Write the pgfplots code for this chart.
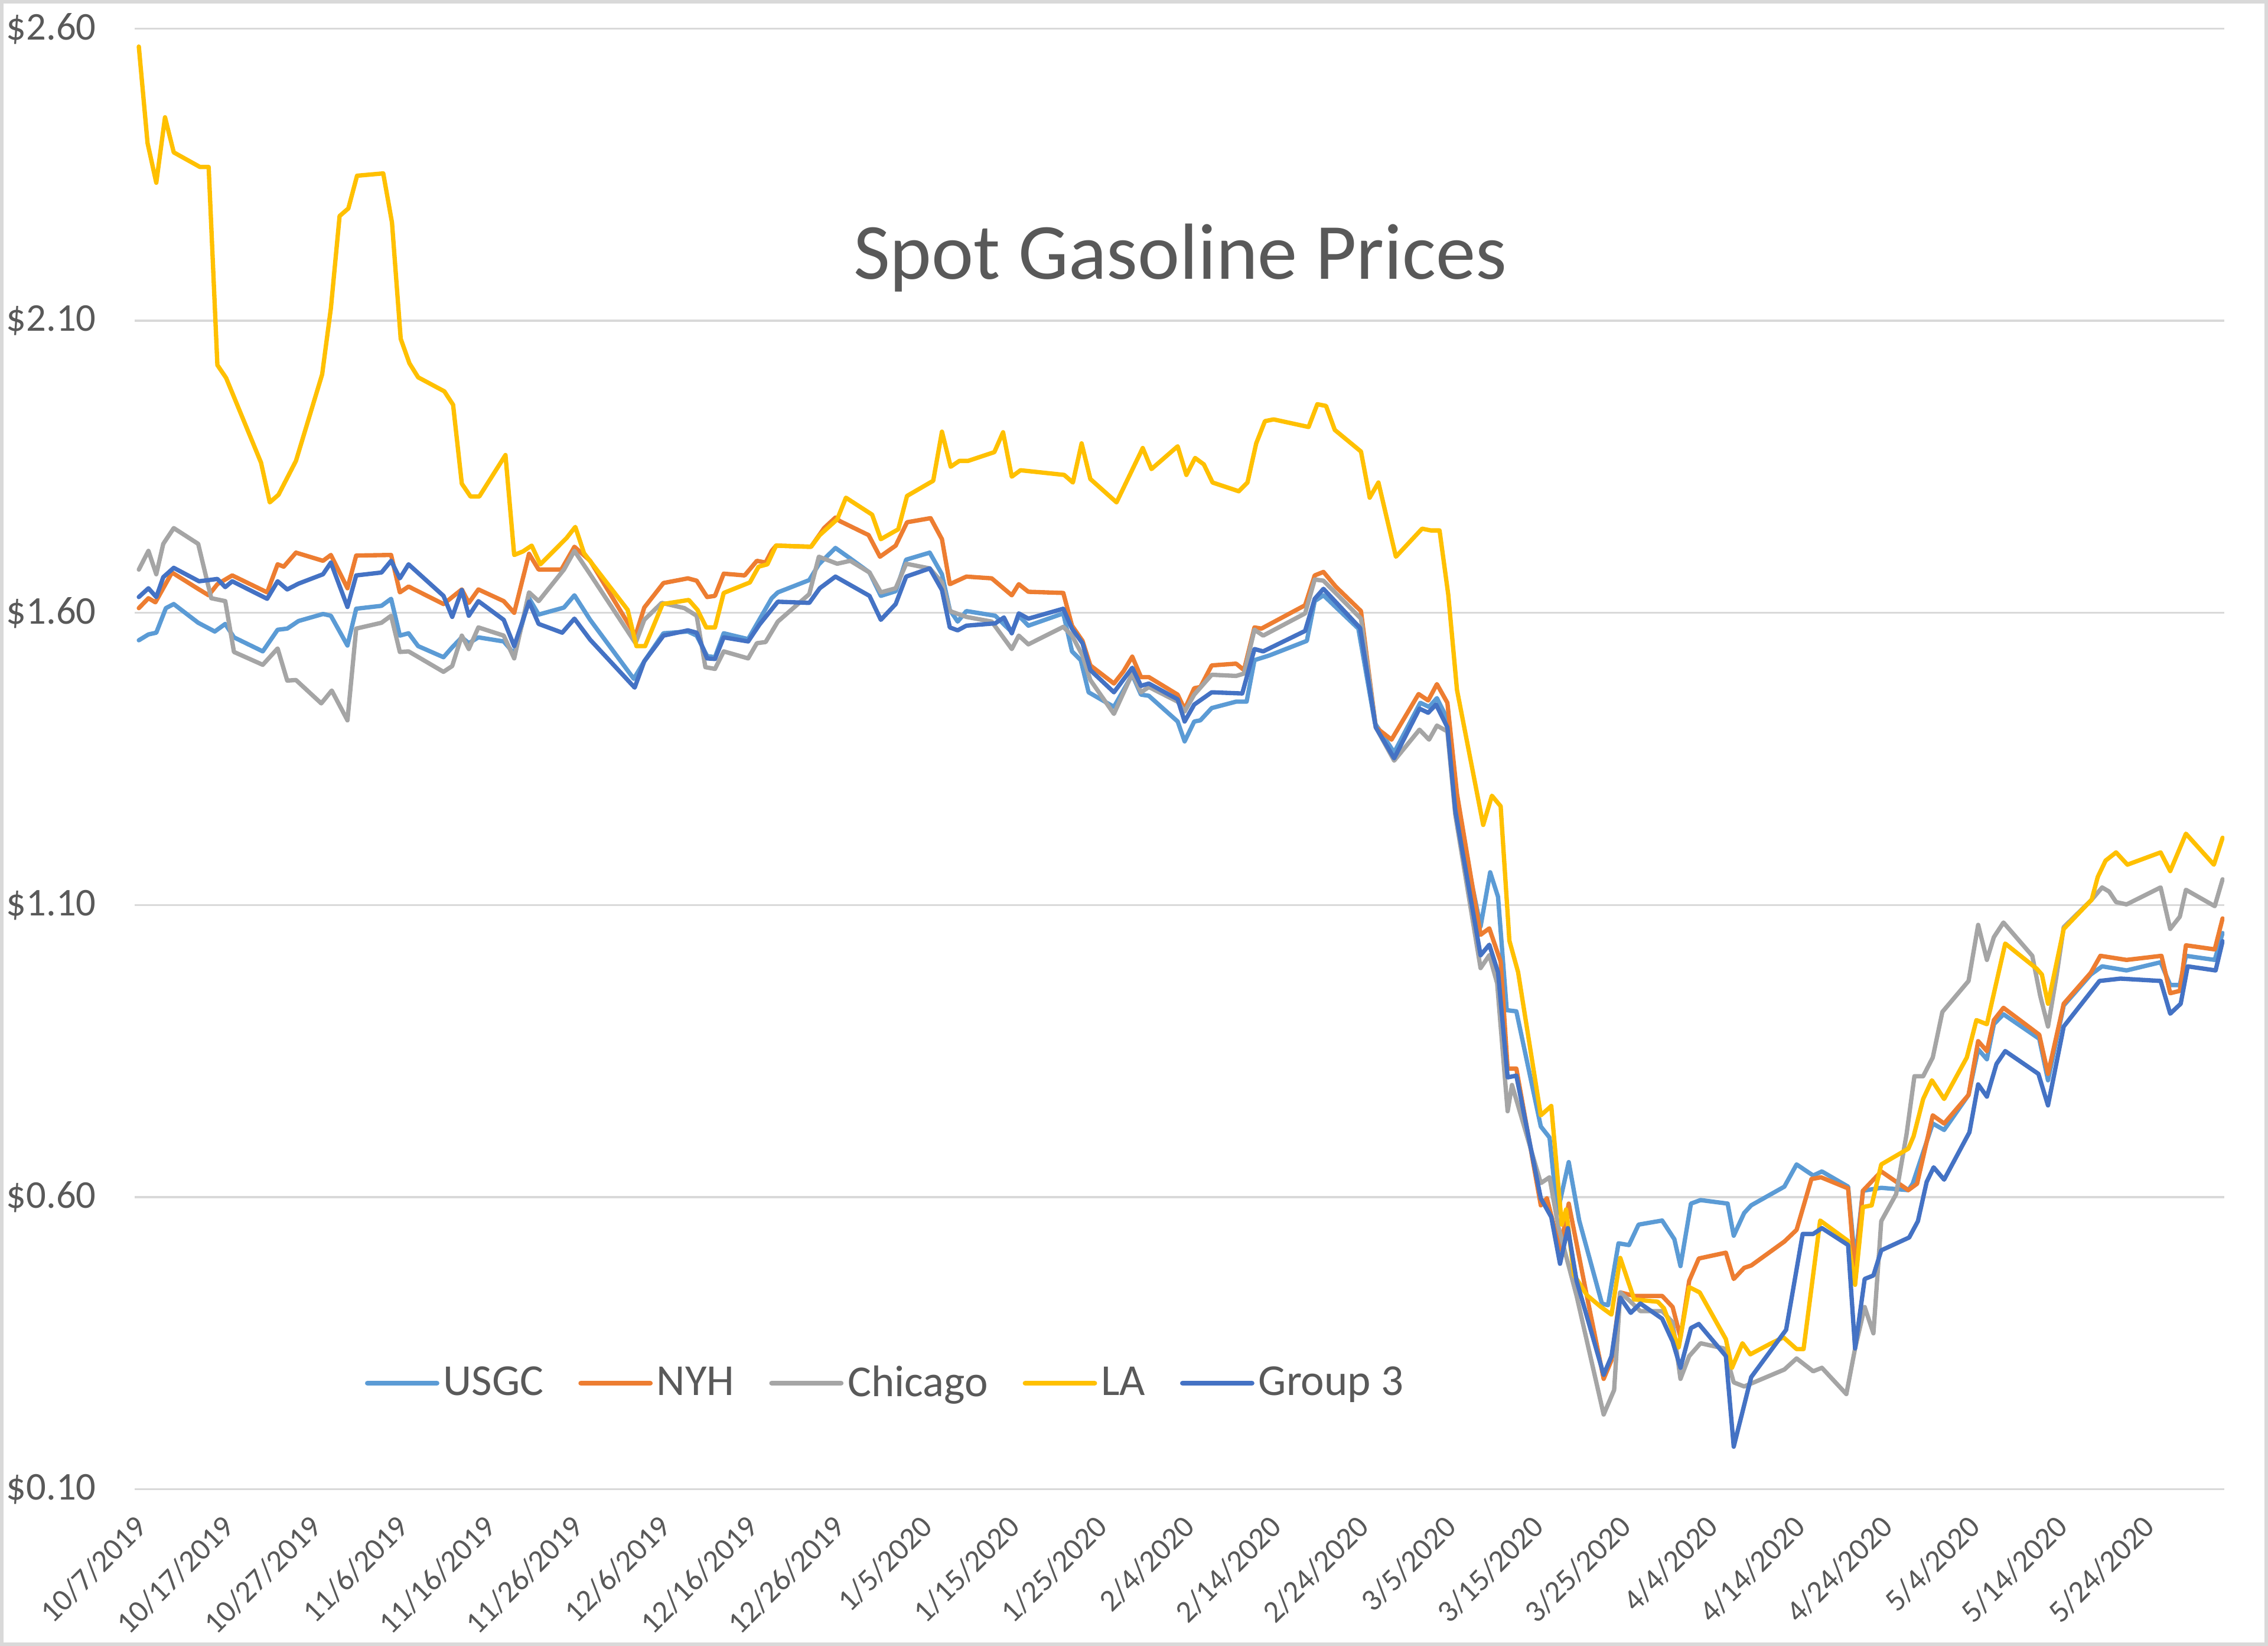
\documentclass[border=0pt]{standalone}
\usepackage{pgfplots}
\pgfplotsset{compat=1.18}
\usepackage{fontspec}
\setmainfont{Carlito}
\definecolor{cUSGC}{HTML}{5B9BD5}
\definecolor{cNYH}{HTML}{ED7D31}
\definecolor{cCHI}{HTML}{A5A5A5}
\definecolor{cLA}{HTML}{FFC000}
\definecolor{cGthree}{HTML}{4472C4}
\definecolor{txt}{HTML}{595959}
\definecolor{gridc}{HTML}{D9D9D9}
\begin{document}
\begin{tikzpicture}
\begin{axis}[
  at={(0,0)}, anchor=south west,
  scale only axis, width=722.3bp, height=505bp,
  xmin=-0.46, xmax=238.9, ymin=0.1, ymax=2.6,
  axis line style={draw=none},
  major tick style={draw=none},
  ymajorgrids, grid style={color=gridc, line width=0.7bp},
  ytick={0.1,0.6,1.1,1.6,2.1,2.6},
  yticklabels={\$0.10,\$0.60,\$1.10,\$1.60,\$2.10,\$2.60},
  yticklabel style={font=\fontsize{13.6bp}{16bp}\selectfont, text=txt, anchor=east, inner sep=0pt, xshift=-13.2bp},
  xtick={0,10,...,230},
  xticklabels={10/7/2019,10/17/2019,10/27/2019,11/6/2019,11/16/2019,11/26/2019,12/6/2019,12/16/2019,12/26/2019,1/5/2020,1/15/2020,1/25/2020,2/4/2020,2/14/2020,2/24/2020,3/5/2020,3/15/2020,3/25/2020,4/4/2020,4/14/2020,4/24/2020,5/4/2020,5/14/2020,5/24/2020},
  xticklabel style={font=\fontsize{10.8bp}{13bp}\selectfont, text=txt, inner sep=0pt, xshift=1bp, yshift=-11bp, rotate=45, anchor=east},
  legend columns=5,
  legend style={draw=none, fill=none, at={(0.1099,0.0726)}, anchor=west, inner sep=0pt,
    font=\fontsize{15.3bp}{18bp}\selectfont, text=txt, nodes={inner sep=0pt},
    /tikz/every even column/.append style={column sep=12bp},
    /tikz/every odd column/.append style={column sep=1.4bp}},
  legend image code/.code={\draw[#1, line width=1.7bp] (0bp,0bp) -- (24bp,0bp);},
  every axis plot/.append style={line width=1.5bp, line join=round, line cap=round, mark=none},
]
\addplot[cUSGC] coordinates {(0,1.553) (1.1,1.563) (2,1.566) (3.1,1.608) (4,1.615) (6.8,1.583) (8.7,1.568) (9.9,1.581) (10.9,1.558) (14.2,1.534) (15.9,1.571) (17,1.573) (18.3,1.586) (21.1,1.598) (22,1.595) (23.9,1.544) (24.9,1.607) (27.8,1.612) (28.9,1.624) (29.9,1.561) (30.9,1.565) (32,1.543) (34.9,1.524) (35.9,1.541) (37,1.558) (37.8,1.548) (38.9,1.558) (41.8,1.551) (43,1.53) (44.7,1.625) (45.8,1.597) (48.7,1.609) (49.9,1.63) (51.7,1.588) (56.7,1.487) (57.9,1.517) (60.1,1.565) (62.9,1.568) (63.9,1.561) (65.1,1.526) (66,1.524) (67,1.565) (69.8,1.555) (72.5,1.625) (73.2,1.635) (76.8,1.656) (77.9,1.683) (79.8,1.711) (81.5,1.693) (83.7,1.669) (85,1.629) (86.7,1.637) (87.9,1.691) (90.6,1.703) (92,1.666) (92.9,1.605) (93.8,1.585) (94.8,1.603) (98.1,1.595) (100,1.567) (100.8,1.595) (101.9,1.578) (105.9,1.599) (106.9,1.534) (107.9,1.519) (108.8,1.464) (111.7,1.439) (113.8,1.494) (114.8,1.46) (115.7,1.458) (119,1.414) (119.8,1.38) (120.9,1.414) (121.6,1.416) (122.9,1.437) (125.7,1.448) (126.9,1.448) (127.8,1.519) (129.5,1.527) (133.8,1.552) (134.7,1.62) (135.7,1.63) (139.7,1.573) (141.6,1.411) (143.8,1.361) (146.8,1.446) (147.8,1.439) (148.7,1.454) (149.9,1.418) (150.8,1.276) (153.7,1.063) (154.8,1.156) (155.7,1.114) (156.7,0.92) (157.8,0.918) (160.6,0.721) (161.6,0.702) (162.5,0.573) (163.8,0.66) (165,0.56) (167.6,0.418) (168.3,0.415) (169.5,0.521) (170.7,0.518) (171.8,0.553) (174.5,0.56) (175.9,0.528) (176.6,0.482) (177.8,0.589) (178.9,0.595) (182,0.589) (182.7,0.534) (183.9,0.573) (184.7,0.586) (188.5,0.618) (189.9,0.656) (191.8,0.637) (192.8,0.644) (195.8,0.618) (196.6,0.489) (197.5,0.611) (199.6,0.616) (202.7,0.612) (203.2,0.623) (205.5,0.726) (206.8,0.715) (209.6,0.775) (210.7,0.853) (211.7,0.836) (212.5,0.896) (213.6,0.913) (217.7,0.871) (218.7,0.80) (220.5,0.928) (223.6,0.981) (224.9,0.995) (227.7,0.988) (231.6,1.002) (232.7,0.963) (233.8,0.963) (234.5,1.013) (237.8,1.006) (238.7,1.052)};
\addlegendentry{USGC}
\addplot[cNYH] coordinates {(0,1.608) (1.1,1.625) (1.9,1.618) (3.8,1.669) (6.9,1.64) (8,1.63) (9,1.649) (10.7,1.664) (14.7,1.635) (15.9,1.683) (16.6,1.679) (18,1.703) (21.1,1.689) (22,1.699) (23.9,1.642) (24.9,1.698) (28.9,1.699) (29.9,1.635) (30.9,1.645) (34.9,1.615) (37,1.64) (37.8,1.617) (38.9,1.64) (41.8,1.62) (43,1.60) (44.7,1.701) (45.8,1.674) (48.4,1.674) (49.9,1.713) (51.7,1.689) (56.9,1.561) (57.9,1.609) (60.1,1.651) (62.9,1.659) (63.9,1.655) (65.1,1.627) (66,1.629) (67,1.667) (69.4,1.664) (70.8,1.689) (71.8,1.686) (72.5,1.706) (73,1.715) (77,1.713) (78.5,1.745) (79.8,1.763) (80.3,1.757) (83.6,1.733) (84.9,1.696) (86.7,1.715) (88,1.755) (90.7,1.762) (92,1.726) (92.9,1.649) (94.8,1.662) (97.7,1.659) (100,1.63) (100.8,1.649) (101.9,1.636) (105.9,1.634) (106.9,1.578) (108.1,1.552) (109,1.51) (111.7,1.479) (112.8,1.50) (113.8,1.525) (114.8,1.49) (115.7,1.49) (119,1.46) (119.8,1.435) (120.9,1.471) (121.6,1.473) (122.9,1.51) (125.7,1.513) (126.6,1.502) (127.8,1.575) (128.6,1.573) (133.6,1.613) (134.7,1.664) (135.7,1.67) (137.1,1.645) (140,1.603) (141.7,1.404) (143.5,1.383) (146.6,1.461) (147.7,1.45) (148.7,1.478) (149.9,1.446) (151,1.29) (153.7,1.049) (154.7,1.06) (156,1.003) (156.8,0.82) (157.8,0.82) (160.6,0.586) (161.3,0.598) (162.8,0.51) (163.8,0.589) (165.7,0.444) (167.8,0.289) (168.7,0.321) (169.7,0.437) (171.3,0.431) (174.5,0.431) (175.7,0.412) (176.6,0.36) (177.6,0.457) (178.7,0.495) (181.8,0.505) (182.7,0.46) (183.9,0.479) (184.7,0.483) (188.5,0.524) (189.9,0.544) (191.6,0.631) (192.7,0.634) (195.8,0.615) (196.6,0.47) (197.5,0.611) (199.6,0.644) (202.7,0.612) (203.7,0.623) (205.5,0.74) (206.8,0.726) (209.6,0.775) (210.7,0.867) (211.7,0.85) (212.5,0.903) (213.6,0.924) (217.7,0.878) (218.7,0.811) (220.5,0.931) (223.6,0.984) (224.7,1.013) (227.7,1.006) (231.7,1.013) (232.7,0.949) (233.8,0.953) (234.5,1.031) (237.8,1.024) (238.7,1.077)};
\addlegendentry{NYH}
\addplot[cCHI] coordinates {(0,1.674) (1.1,1.706) (2,1.666) (2.8,1.718) (4,1.745) (6.8,1.718) (8.3,1.625) (9.9,1.62) (10.9,1.533) (14.2,1.511) (15.9,1.539) (17,1.484) (18,1.485) (20.9,1.445) (22.1,1.467) (23.9,1.416) (24.9,1.573) (27.8,1.583) (28.9,1.595) (29.9,1.533) (30.9,1.534) (34.9,1.499) (35.9,1.509) (37,1.561) (37.8,1.538) (38.9,1.575) (41.8,1.561) (43,1.522) (44.7,1.635) (45.8,1.62) (48.7,1.674) (49.9,1.706) (51.7,1.666) (56.9,1.548) (57.9,1.588) (59.9,1.617) (62.5,1.608) (63.9,1.595) (64.9,1.507) (66,1.504) (67,1.534) (69.8,1.522) (70.8,1.548) (71.8,1.55) (73.2,1.585) (76.8,1.632) (77.9,1.696) (80,1.684) (81.5,1.689) (83.7,1.669) (85,1.635) (86.7,1.642) (87.9,1.684) (90.6,1.676) (92,1.652) (92.9,1.603) (94.8,1.593) (97.7,1.585) (100,1.538) (100.8,1.561) (101.9,1.546) (105.9,1.576) (106.9,1.561) (108.1,1.527) (109,1.485) (111.7,1.427) (113.8,1.496) (114.8,1.464) (115.7,1.473) (119,1.448) (119.8,1.431) (120.9,1.46) (122.9,1.494) (125.7,1.492) (126.6,1.496) (127.8,1.571) (128.8,1.561) (133.6,1.599) (134.7,1.657) (135.7,1.655) (140,1.59) (141.7,1.404) (143.8,1.347) (146.7,1.40) (147.8,1.383) (148.7,1.407) (149.9,1.397) (150.8,1.255) (153.7,0.992) (154.7,1.014) (155.6,0.966) (156.8,0.747) (157.3,0.792) (160.6,0.624) (161.6,0.634) (162.6,0.55) (164.7,0.431) (167.8,0.228) (169,0.27) (169.7,0.437) (170.9,0.421) (172,0.405) (174.5,0.405) (175.7,0.386) (176.6,0.289) (177.6,0.328) (178.9,0.35) (181.6,0.341) (182.7,0.283) (183.9,0.276) (188.5,0.305) (189.9,0.324) (191.8,0.302) (192.8,0.308) (195.6,0.263) (196.6,0.341) (197.7,0.412) (198.7,0.367) (199.6,0.559) (201.3,0.605) (202.5,0.708) (203.4,0.807) (204.4,0.807) (205.5,0.839) (206.6,0.917) (209.6,0.97) (210.7,1.066) (211.7,1.006) (212.5,1.045) (213.6,1.07) (216.9,1.013) (217.8,0.945) (218.7,0.892) (219.7,0.981) (220.5,1.062) (223.7,1.109) (224.9,1.13) (225.7,1.123) (226.5,1.105) (227.7,1.101) (231.6,1.13) (232.7,1.059) (233.8,1.08) (234.5,1.126) (237.8,1.098) (238.7,1.144)};
\addlegendentry{Chicago}
\addplot[cLA] coordinates {(0,2.569) (1,2.404) (2,2.336) (3,2.448) (4,2.388) (7,2.363) (8,2.363) (9,2.024) (10,2.002) (14,1.857) (15,1.789) (16,1.802) (18,1.86) (21,2.008) (22,2.121) (23,2.279) (24,2.292) (25,2.348) (28,2.352) (29,2.268) (30,2.069) (31,2.027) (32,2.003) (35,1.979) (36,1.956) (37,1.821) (38,1.799) (39,1.799) (42,1.87) (43,1.699) (44,1.705) (45,1.715) (46,1.683) (49,1.728) (50,1.747) (51,1.702) (56,1.605) (57,1.543) (58,1.543) (60,1.615) (63,1.622) (64,1.605) (65,1.575) (66,1.575) (67,1.634) (70,1.652) (71,1.679) (72,1.683) (73,1.715) (77,1.713) (78,1.733) (80,1.76) (81,1.797) (84,1.768) (85,1.726) (87,1.743) (88,1.80) (91,1.826) (92,1.91) (93,1.85) (94,1.86) (95,1.86) (98,1.875) (99,1.909) (100,1.833) (101,1.844) (106,1.836) (107,1.823) (108,1.89) (109,1.829) (112,1.789) (115,1.882) (116,1.846) (119,1.885) (120,1.836) (121,1.865) (122,1.854) (123,1.823) (126,1.808) (127,1.823) (128,1.89) (129,1.928) (130,1.931) (134,1.918) (135,1.957) (136,1.954) (137,1.913) (140,1.876) (141,1.797) (142,1.823) (144,1.696) (147,1.744) (148,1.741) (149,1.741) (150,1.631) (151,1.468) (154,1.237) (155,1.287) (156,1.269) (157,1.039) (158,0.985) (160.6,0.74) (161.8,0.756) (163,0.553) (163.5,0.579) (164.4,0.467) (165.9,0.432) (167.5,0.412) (168.7,0.399) (169.7,0.496) (171.3,0.425) (174,0.421) (174.7,0.41) (176.4,0.343) (177.6,0.446) (178.8,0.437) (181.8,0.357) (182.5,0.308) (183.7,0.35) (184.6,0.331) (187,0.35) (188.4,0.36) (189.9,0.34) (190.7,0.34) (192.6,0.56) (195.8,0.525) (196.6,0.45) (197.5,0.583) (198.5,0.586) (199.6,0.656) (202.7,0.683) (203.3,0.704) (204.4,0.768) (205.4,0.80) (206.8,0.768) (209.4,0.839) (210.5,0.903) (211.7,0.896) (213.8,1.034) (217.4,0.991) (218,0.981) (218.7,0.931) (220.5,1.059) (223.7,1.109) (224.4,1.148) (225.3,1.176) (226.5,1.19) (227.8,1.169) (231.6,1.19) (232.7,1.158) (234.5,1.222) (237.7,1.169) (238.7,1.215)};
\addlegendentry{LA}
\addplot[cGthree] coordinates {(0,1.627) (1.1,1.642) (2,1.627) (2.8,1.661) (4,1.677) (6.9,1.654) (8,1.656) (9,1.658) (9.9,1.644) (10.7,1.654) (14.7,1.624) (15.9,1.654) (17,1.64) (18.3,1.65) (21.1,1.666) (22,1.686) (23.9,1.61) (24.9,1.664) (27.8,1.669) (28.9,1.689) (29.9,1.659) (30.9,1.683) (34.9,1.629) (35.9,1.593) (37,1.639) (37.8,1.595) (38.9,1.62) (41.8,1.588) (43,1.543) (44.7,1.619) (45.8,1.581) (48.5,1.566) (49.9,1.59) (51.7,1.554) (56.8,1.472) (57.9,1.517) (60.1,1.561) (62.9,1.57) (63.9,1.566) (65.1,1.522) (66,1.521) (67,1.558) (69.8,1.551) (71.1,1.58) (73.2,1.619) (76.8,1.617) (78,1.642) (79.8,1.662) (83.7,1.629) (85,1.588) (86.7,1.615) (87.9,1.662) (90.6,1.676) (92,1.639) (92.9,1.575) (93.8,1.57) (94.8,1.578) (98.1,1.582) (99.1,1.592) (100,1.565) (100.8,1.599) (101.9,1.59) (105.9,1.607) (106.9,1.573) (108.1,1.548) (109,1.502) (111.7,1.464) (113.8,1.506) (114.8,1.475) (115.7,1.479) (119,1.452) (119.8,1.414) (120.9,1.443) (122.9,1.464) (126.4,1.462) (127.8,1.538) (128.8,1.534) (133.6,1.569) (134.7,1.624) (135.7,1.641) (139.9,1.574) (141.7,1.404) (143.8,1.351) (146.7,1.436) (147.7,1.429) (148.6,1.443) (149.9,1.404) (150.8,1.262) (153.7,1.014) (154.7,1.032) (155.7,0.985) (156.8,0.805) (157.8,0.808) (160.6,0.598) (161.8,0.566) (162.8,0.486) (163.7,0.547) (164.7,0.457) (167.8,0.296) (168.7,0.328) (169.7,0.428) (170.9,0.402) (172,0.418) (174.5,0.392) (175.7,0.353) (176.6,0.308) (177.8,0.376) (178.7,0.383) (181.8,0.328) (182.7,0.173) (184.7,0.292) (188.7,0.373) (190.6,0.537) (191.8,0.537) (192.8,0.547) (195.8,0.518) (196.6,0.341) (197.7,0.46) (198.7,0.466) (199.6,0.509) (202.8,0.531) (203.8,0.559) (204.8,0.626) (205.6,0.651) (206.8,0.63) (209.7,0.711) (210.7,0.793) (211.7,0.772) (212.8,0.828) (213.8,0.85) (217.6,0.811) (218.7,0.757) (220.5,0.892) (224.6,0.97) (227,0.974) (231.6,0.97) (232.7,0.914) (233.9,0.931) (234.7,0.995) (237.9,0.988) (238.7,1.038)};
\addlegendentry{Group 3}
\end{axis}
\node[anchor=base, font=\fontsize{27.5bp}{32bp}\selectfont, text=txt] at (361.4bp,418.35bp) {Spot Gasoline Prices};
\pgfresetboundingbox
\draw[gridc, line width=1.2bp] (-46bp,-53.55bp) rectangle (736.8bp,514.25bp);
\useasboundingbox (-46.6bp,-54.15bp) rectangle (737.4bp,514.85bp);
\end{tikzpicture}
\end{document}
